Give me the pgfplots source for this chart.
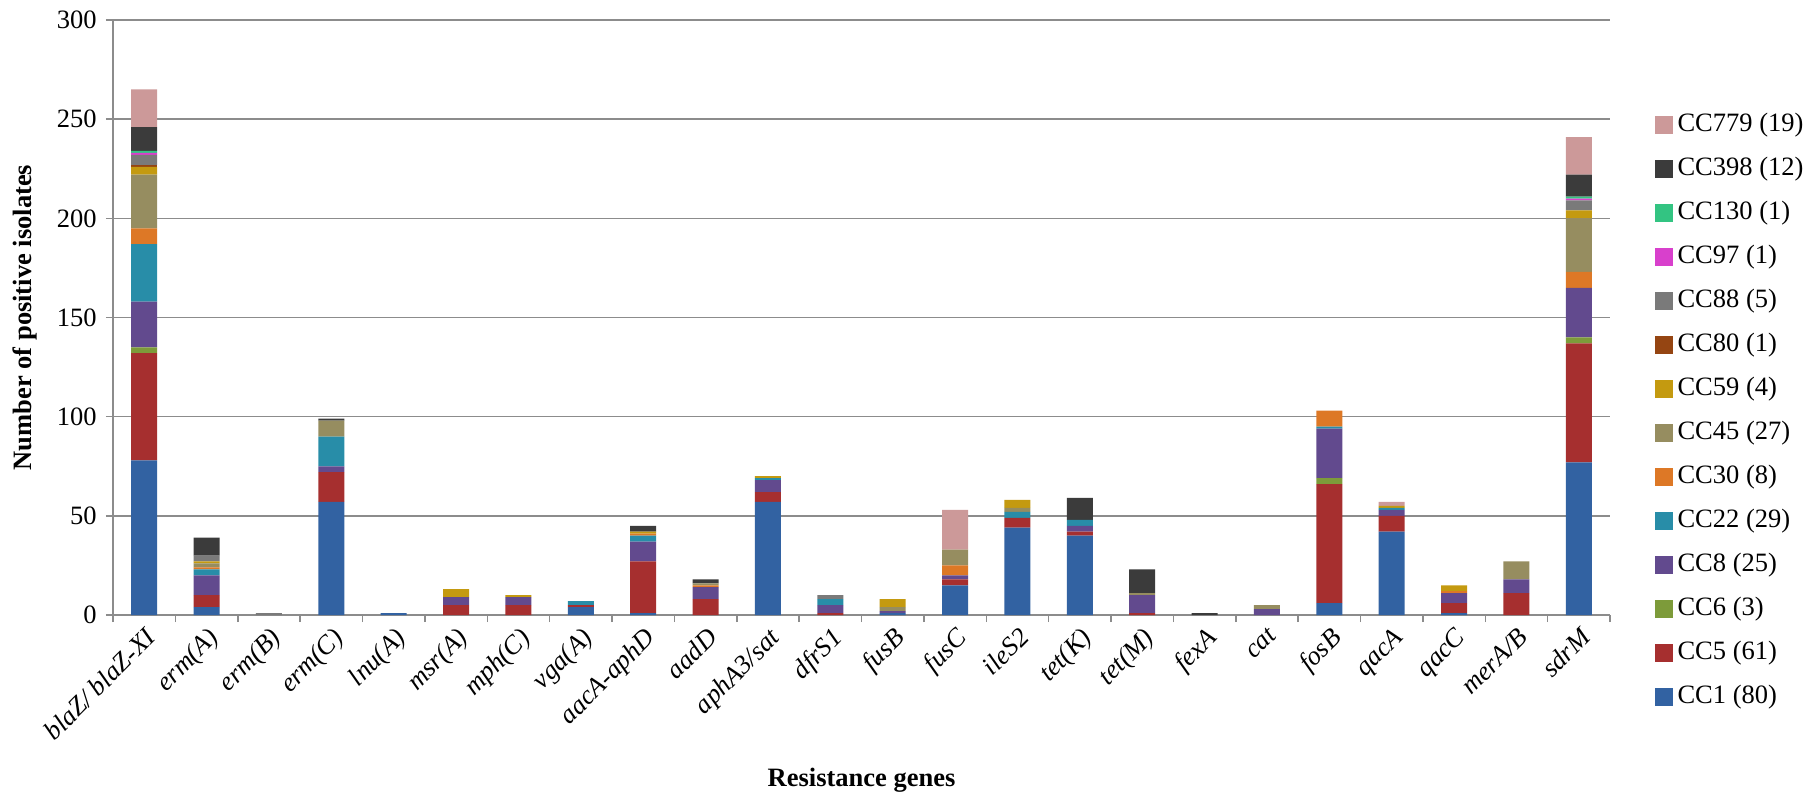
\documentclass[border=0pt]{standalone}
\usepackage{pgfplots}
\usepackage{pgfplotstable}
\pgfplotsset{compat=1.18}
\usepackage{fontspec}
\setmainfont{Liberation Serif}

% clonal complex colours
\definecolor{cc1}{HTML}{3262A2}
\definecolor{cc5}{HTML}{A62F2F}
\definecolor{cc6}{HTML}{7D9B3A}
\definecolor{cc8}{HTML}{624A8E}
\definecolor{cc22}{HTML}{288DA8}
\definecolor{cc30}{HTML}{DD7826}
\definecolor{cc45}{HTML}{968D60}
\definecolor{cc59}{HTML}{C49A10}
\definecolor{cc80}{HTML}{954512}
\definecolor{cc88}{HTML}{7A7A7A}
\definecolor{cc97}{HTML}{D840CC}
\definecolor{cc130}{HTML}{33C482}
\definecolor{cc398}{HTML}{3B3B3B}
\definecolor{cc779}{HTML}{CC9999}
\definecolor{gridgray}{HTML}{8C8C8C}

% positive isolates per resistance gene, split by clonal complex
\pgfplotstableread{
x  CC1 CC5 CC6 CC8 CC22 CC30 CC45 CC59 CC80 CC88 CC97 CC130 CC398 CC779
0  78  54  3   23  29   8    27   4    1    5    1    1     12    19
1  4   6   0   10  3    1    2    1    0    3    0    0     9     0
2  0   0   0   0   0    0    0    0    0    1    0    0     0     0
3  57  15  0   3   15   0    8    0    0    0    0    0     1     0
4  1   0   0   0   0    0    0    0    0    0    0    0     0     0
5  0   5   0   4   0    0    0    4    0    0    0    0     0     0
6  0   5   0   4   0    0    0    1    0    0    0    0     0     0
7  4   1   0   0   2    0    0    0    0    0    0    0     0     0
8  1   26  0   10  3    1    0    1    0    0    0    0     3     0
9  0   8   0   6   0    1    1    0    0    0    0    0     2     0
10 57  5   0   6   1    0    0    1    0    0    0    0     0     0
11 0   1   0   4   3    0    0    0    0    2    0    0     0     0
12 1   0   0   1   0    0    2    4    0    0    0    0     0     0
13 15  3   0   2   0    5    8    0    0    0    0    0     0     20
14 44  5   0   0   3    0    2    4    0    0    0    0     0     0
15 40  2   0   3   3    0    0    0    0    0    0    0     11    0
16 0   1   0   9   0    0    1    0    0    0    0    0     12    0
17 0   0   0   0   0    0    0    0    0    0    0    0     1     0
18 0   0   0   3   0    0    2    0    0    0    0    0     0     0
19 6   60  3   25  1    8    0    0    0    0    0    0     0     0
20 42  8   0   3   1    0    0    1    0    0    0    0     0     2
21 1   5   0   5   0    1    0    3    0    0    0    0     0     0
22 0   11  0   7   0    0    9    0    0    0    0    0     0     0
23 77  60  3   25  0    8    27   4    0    5    1    1     11    19
}\genes

\newcommand{\chartfont}{\fontsize{10.6}{12.7}\selectfont}

\begin{document}
\chartfont
\begin{tikzpicture}
\path[use as bounding box] (-45.2pt,-73.2pt) rectangle (681.6pt,246pt);
\begin{axis}[
  at={(0pt,0pt)}, anchor=south west,
  scale only axis, width=598.8pt, height=238pt,
  ybar stacked, bar width=10.4pt,
  xmin=-0.5, xmax=23.5, ymin=0, ymax=300,
  ytick={0,50,...,300},
  xtick={0,...,23},
  xticklabels={{blaZ/ blaZ-XI},erm(A),erm(B),erm(C),lnu(A),msr(A),mph(C),vga(A),aacA-aphD,aadD,aphA3/sat,dfrS1,fusB,fusC,ileS2,tet(K),tet(M),fexA,cat,fosB,qacA,qacC,merA/B,sdrM},
  minor xtick={-0.5,0.5,...,23.5},
  tick align=outside,
  major tick length=2.8pt, minor tick length=2.8pt,
  major x tick style={draw=none},
  minor x tick style={draw=gridgray, line width=0.6pt},
  ytick style={draw=gridgray, line width=0.6pt},
  axis x line*=bottom, axis y line*=left,
  axis line style={draw=gridgray, line width=0.6pt},
  ymajorgrids, grid style={draw=gridgray, line width=0.6pt},
  /pgf/number format/assume math mode=true,
  every tick label/.append style={font=\chartfont},
  xticklabel style={rotate=45, anchor=north east, font=\chartfont\itshape, inner sep=1pt},
  xlabel={\textbf{Resistance genes}},
  ylabel={\textbf{Number of positive isolates}},
  xlabel style={at={(axis description cs:0.5,-0.277)}, anchor=center, font=\chartfont},
  ylabel style={at={(axis description cs:-0.0588,0.5)}, anchor=center, font=\chartfont},
  reverse legend,
  legend cell align=left,
  legend image code/.code={\fill[#1] (0pt,-3.6pt) rectangle (7.2pt,3.6pt);},
  legend style={draw=none, fill=none, at={(rel axis cs:1,0.343)}, anchor=west,
    xshift=17.6pt, inner sep=0pt, font=\chartfont, row sep=7.3pt,
    nodes={inner sep=0pt, text height=7.6pt, text depth=2.7pt},
    /tikz/every odd column/.append style={column sep=2pt}},
]
\addplot[fill=cc1, draw=none] table[x=x, y=CC1] {\genes};
\addplot[fill=cc5, draw=none] table[x=x, y=CC5] {\genes};
\addplot[fill=cc6, draw=none] table[x=x, y=CC6] {\genes};
\addplot[fill=cc8, draw=none] table[x=x, y=CC8] {\genes};
\addplot[fill=cc22, draw=none] table[x=x, y=CC22] {\genes};
\addplot[fill=cc30, draw=none] table[x=x, y=CC30] {\genes};
\addplot[fill=cc45, draw=none] table[x=x, y=CC45] {\genes};
\addplot[fill=cc59, draw=none] table[x=x, y=CC59] {\genes};
\addplot[fill=cc80, draw=none] table[x=x, y=CC80] {\genes};
\addplot[fill=cc88, draw=none] table[x=x, y=CC88] {\genes};
\addplot[fill=cc97, draw=none] table[x=x, y=CC97] {\genes};
\addplot[fill=cc130, draw=none] table[x=x, y=CC130] {\genes};
\addplot[fill=cc398, draw=none] table[x=x, y=CC398] {\genes};
\addplot[fill=cc779, draw=none] table[x=x, y=CC779] {\genes};
\legend{CC1 (80),CC5 (61),CC6 (3),CC8 (25),CC22 (29),CC30 (8),CC45 (27),CC59 (4),CC80 (1),CC88 (5),CC97 (1),CC130 (1),CC398 (12),CC779 (19)}
\end{axis}
\end{tikzpicture}
\end{document}
